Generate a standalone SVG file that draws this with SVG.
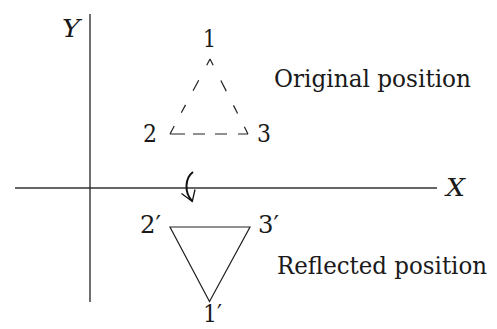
<svg xmlns="http://www.w3.org/2000/svg" width="497" height="329" viewBox="0 0 497 329">
<style>
text{font-family:'DejaVu Serif','Liberation Serif',serif;fill:#1a1a1a}
.lbl{font-size:24px}
.num{font-size:25px}
.ax{font-size:24px;font-style:italic}
.dash{stroke:#222;stroke-width:1.2;fill:none}
</style>
<rect width="497" height="329" fill="#fff"/>
<g id="axes">
<line x1="15" y1="188" x2="437" y2="188" stroke="#666" stroke-width="2"/>
<line x1="90" y1="14" x2="90" y2="302" stroke="#222" stroke-width="1.3"/>
<text class="ax" x="62" y="37" textLength="18" lengthAdjust="spacingAndGlyphs">Y</text>
<text class="ax" x="446" y="196" textLength="19" lengthAdjust="spacingAndGlyphs">X</text>
</g>
<g id="original-triangle">
<line class="dash" x1="210" y1="59" x2="170" y2="134" stroke-dasharray="7 17 12 16 9 15 9"/>
<line class="dash" x1="210" y1="59" x2="248" y2="134" stroke-dasharray="7 17 12 16 9 15 9"/>
<line class="dash" x1="170" y1="134" x2="248" y2="134" stroke-dasharray="15 8 12 10 12 11 10"/>
<text class="num" x="203" y="47" textLength="13" lengthAdjust="spacingAndGlyphs">1</text>
<text class="num" x="143" y="142" textLength="14" lengthAdjust="spacingAndGlyphs">2</text>
<text class="num" x="257" y="142" textLength="14" lengthAdjust="spacingAndGlyphs">3</text>
<text class="lbl" x="274" y="87" textLength="197" lengthAdjust="spacingAndGlyphs">Original position</text>
</g>
<g id="rotation">
<path d="M193,172 C185,178 184,192 192,201" fill="none" stroke="#111" stroke-width="2"/>
<polyline points="181.5,193.5 192.3,201.5 195,189.5" fill="none" stroke="#111" stroke-width="1.3"/>
</g>
<g id="reflected-triangle">
<polygon points="170,227 250,227 209.5,301.5" fill="none" stroke="#222" stroke-width="1.2"/>
<text class="num" x="140" y="233" textLength="21" lengthAdjust="spacingAndGlyphs">2′</text>
<text class="num" x="258" y="233" textLength="21" lengthAdjust="spacingAndGlyphs">3′</text>
<text class="num" x="203" y="322" textLength="19" lengthAdjust="spacingAndGlyphs">1′</text>
<text class="lbl" x="277" y="274" textLength="210" lengthAdjust="spacingAndGlyphs">Reflected position</text>
</g>
</svg>
